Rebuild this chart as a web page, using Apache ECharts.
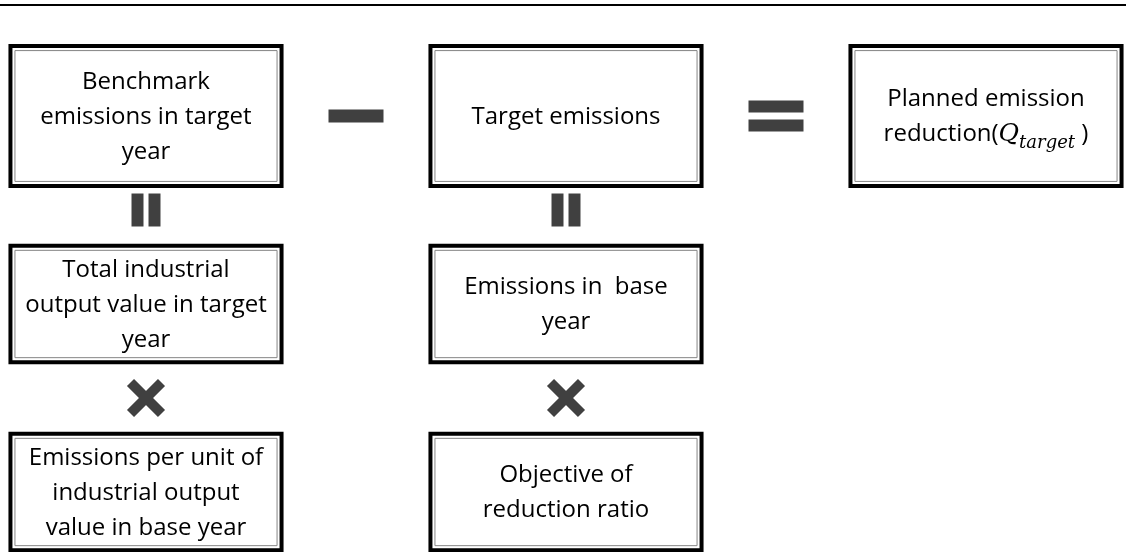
<!DOCTYPE html>
<html>
<head>
<meta charset="utf-8">
<script src="https://cdn.jsdelivr.net/npm/echarts@6/dist/echarts.min.js"></script>
<style>
  html, body { margin: 0; padding: 0; background: #fff; }
  #chart { width: 1126px; height: 552px; }
</style>
</head>
<body>
<div id="chart"></div>
<script>
// boxes of the diagram: text, column (0..2) and row (0..4) in the layout grid
const boxTexts = [
  'Benchmark\nemissions in target\nyear',
  'Target emissions',
  'Planned emission\nreduction({q|Q}{sub|target} )',
  'Total industrial\noutput value in target\nyear',
  'Emissions in  base\nyear',
  'Emissions per unit of\nindustrial output\nvalue in base year',
  'Objective of\nreduction ratio'
];
const boxCols = [0, 1, 2, 0, 1, 0, 1];
const boxRows = [0, 0, 0, 2, 2, 4, 4];

// operators between the boxes
const operatorTypes = ['minus', 'equals', 'parallel', 'parallel', 'times', 'times'];
const operatorCols = [0.5, 1.5, 0, 1, 0, 1];
const operatorRows = [0, 0, 1, 1, 3, 3];

// sizes (in grid units) and styles
const BOX_W = 0.655;
const boxHeight = row => (row === 0 ? 1.53 : 1.28);
const SYMBOL_COLOR = '#404040';
const FONT = '"Open Sans", "Noto Sans", sans-serif';
const MATH_FONT = '"DejaVu Serif", serif';

const chart = echarts.init(document.getElementById('chart'));

function renderBox(params, api) {
  const col = api.value(0);
  const row = api.value(1);
  const idx = api.value(2);
  const c = api.coord([col, row]);
  const s = api.size([BOX_W, boxHeight(row)]);
  const w = s[0], h = s[1];
  const x = c[0] - w / 2, y = c[1] - h / 2;
  return {
    type: 'group',
    children: [
      {
        type: 'rect',
        shape: { x: x + 2, y: y + 2, width: w - 4, height: h - 4 },
        style: { fill: '#fff', stroke: '#000', lineWidth: 4 }
      },
      {
        type: 'rect',
        shape: { x: x + 6.5, y: y + 6.5, width: w - 13, height: h - 13 },
        style: { fill: 'none', stroke: '#858585', lineWidth: 1 }
      },
      {
        type: 'text',
        style: {
          text: boxTexts[idx],
          x: c[0],
          y: c[1] + 1,
          align: 'center',
          verticalAlign: 'middle',
          fontFamily: FONT,
          fontSize: 24,
          lineHeight: 35,
          fill: '#000',
          rich: {
            q: {
              fontFamily: MATH_FONT,
              fontStyle: 'italic',
              fontSize: 25,
              lineHeight: 35,
              fill: '#000'
            },
            sub: {
              fontFamily: MATH_FONT,
              fontStyle: 'italic',
              fontSize: 18,
              lineHeight: 35,
              verticalAlign: 'bottom',
              padding: [14, 0, 0, 0],
              fill: '#000'
            }
          }
        }
      }
    ]
  };
}

function renderOperator(params, api) {
  const c = api.coord([api.value(0), api.value(1)]);
  const type = operatorTypes[api.value(2)];
  const style = { fill: SYMBOL_COLOR };
  let children = [];
  if (type === 'minus') {
    children = [{ type: 'rect', shape: { x: c[0] - 27.5, y: c[1] - 6.5, width: 55, height: 13 }, style }];
  } else if (type === 'equals') {
    children = [
      { type: 'rect', shape: { x: c[0] - 27.5, y: c[1] - 15.5, width: 55, height: 12 }, style },
      { type: 'rect', shape: { x: c[0] - 27.5, y: c[1] + 3.5, width: 55, height: 12 }, style }
    ];
  } else if (type === 'parallel') {
    children = [
      { type: 'rect', shape: { x: c[0] - 14.5, y: c[1] - 16.5, width: 12, height: 33 }, style },
      { type: 'rect', shape: { x: c[0] + 2.5, y: c[1] - 16.5, width: 12, height: 33 }, style }
    ];
  } else {
    const d = 15.5;
    const lineStyle = { stroke: SYMBOL_COLOR, lineWidth: 10, lineCap: 'butt' };
    children = [
      { type: 'line', shape: { x1: c[0] - d, y1: c[1] - d, x2: c[0] + d, y2: c[1] + d }, style: lineStyle },
      { type: 'line', shape: { x1: c[0] + d, y1: c[1] - d, x2: c[0] - d, y2: c[1] + d }, style: lineStyle }
    ];
  }
  return { type: 'group', children };
}

const option = {
  backgroundColor: '#fff',
  animation: false,
  grid: { left: 146, right: 140, top: 116, bottom: 60 },
  xAxis: { type: 'value', min: 0, max: 2, show: false },
  yAxis: { type: 'value', min: 0, max: 4, inverse: true, show: false },
  graphic: [
    {
      type: 'line',
      shape: { x1: 0, y1: 5, x2: 1126, y2: 5 },
      style: { stroke: '#000', lineWidth: 2 }
    }
  ],
  series: [
    {
      type: 'custom',
      name: 'boxes',
      silent: true,
      renderItem: renderBox,
      data: boxCols.map((col, i) => [col, boxRows[i], i])
    },
    {
      type: 'custom',
      name: 'operators',
      silent: true,
      renderItem: renderOperator,
      data: operatorCols.map((col, i) => [col, operatorRows[i], i])
    }
  ]
};

chart.setOption(option);
</script>
</body>
</html>
